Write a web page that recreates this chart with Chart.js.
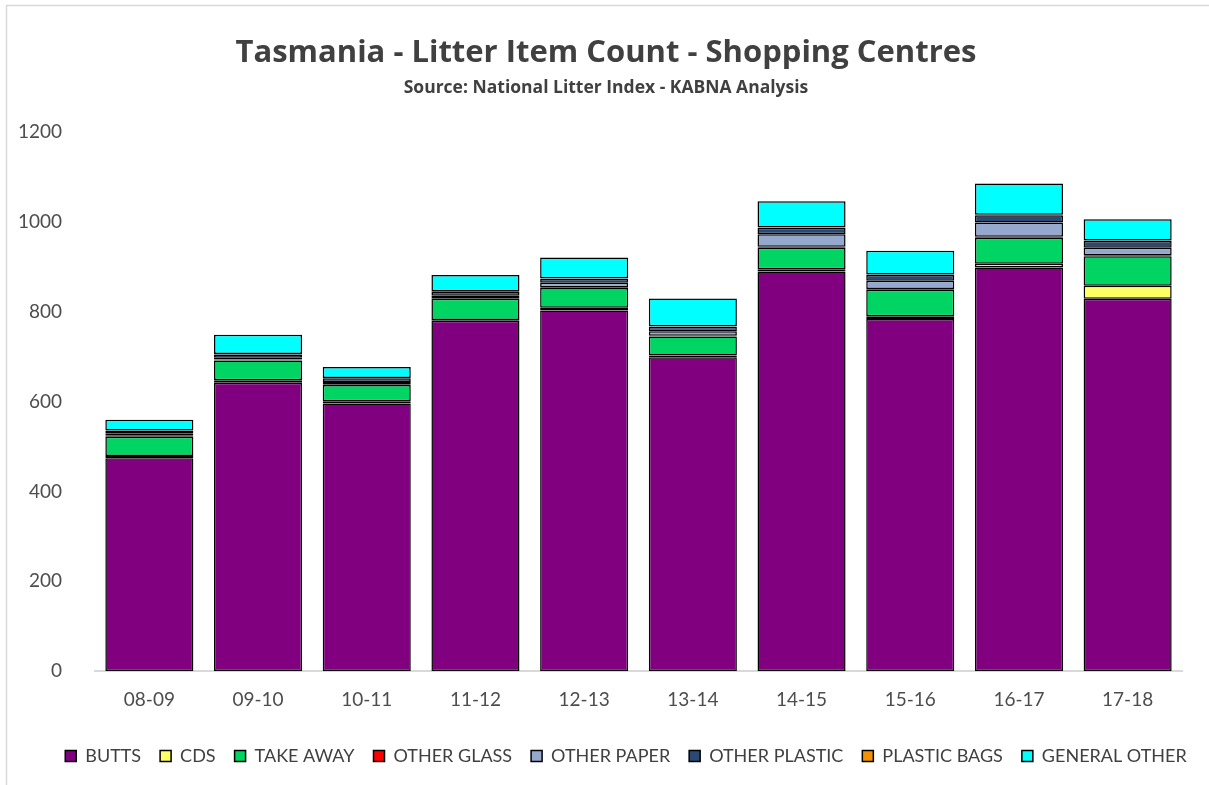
<!DOCTYPE html>
<html>
<head>
<meta charset="utf-8">
<title>Tasmania - Litter Item Count - Shopping Centres</title>
<script src="https://cdn.jsdelivr.net/npm/chart.js@4.4.0/dist/chart.umd.min.js"></script>
<style>
  html, body { margin: 0; padding: 0; background: #fff; }
  #wrap { width: 1209px; height: 785px; position: relative; }
</style>
</head>
<body>
<div id="wrap"><canvas id="litterChart" width="1209" height="785"></canvas></div>
<script>
// periods (financial years)
const periods = ['08-09', '09-10', '10-11', '11-12', '12-13', '13-14', '14-15', '15-16', '16-17', '17-18'];

// item counts per litter type
const butts        = [474, 642, 596, 780, 803, 699, 890, 784, 899, 829];
const cds          = [5, 6, 5, 2, 6, 4, 5, 6, 8, 29];
const takeAway     = [43, 44, 36, 47, 44, 42, 48, 59, 58, 66];
const otherGlass   = [2, 2, 1, 2, 2, 2, 2, 2, 2, 2];
const otherPaper   = [6, 4, 6, 5, 10, 10, 28, 18, 32, 17];
const otherPlastic = [5, 7, 8, 8, 9, 10, 14, 13, 16, 15];
const plasticBags  = [1, 1, 1, 2, 1, 1, 1, 1, 1, 1];
const generalOther = [24, 43, 24, 36, 46, 62, 58, 53, 70, 47];

const yTicks = [0, 200, 400, 600, 800, 1000, 1200];

const titleText = 'Tasmania - Litter Item Count - Shopping Centres';
const subtitleText = 'Source: National Litter Index - KABNA Analysis';

function serie(label, data, color) {
    return {
        label: label,
        data: data,
        backgroundColor: color,
        borderColor: '#000000',
        borderWidth: 1.5,
        borderSkipped: false
    };
}

// white background + light frame round the chart
const frame = {
    id: 'frame',
    beforeDraw(chart) {
        let ctx = chart.ctx;
        ctx.save();
        ctx.fillStyle = '#ffffff';
        ctx.fillRect(0, 0, chart.width, chart.height);
        ctx.strokeStyle = '#d9d9d9';
        ctx.lineWidth = 1.5;
        ctx.strokeRect(6.5, 5.5, 1240, 820);
        ctx.restore();
    }
};

// titles are centred on the page and the legend sits right of centre in the original
const boxShift = {
    id: 'boxShift',
    afterLayout(chart) {
        for (let box of chart.boxes) {
            let shift = 0;
            if (box === chart.legend) shift = 35;
            else if (box.options && (box.options.text === titleText || box.options.text === subtitleText)) shift = 15;
            box.left += shift;
            box.right += shift;
        }
    }
};

let ctx = document.getElementById('litterChart').getContext('2d');
let chart = new Chart(ctx, {
    type: 'bar',
    data: {
        labels: periods,
        datasets: [
            serie('BUTTS', butts, '#800080'),
            serie('CDS', cds, '#FFFF66'),
            serie('TAKE AWAY', takeAway, '#00D462'),
            serie('OTHER GLASS', otherGlass, '#FF0000'),
            serie('OTHER PAPER', otherPaper, '#95A9CF'),
            serie('OTHER PLASTIC', otherPlastic, '#2A4A74'),
            serie('PLASTIC BAGS', plasticBags, '#F39200'),
            serie('GENERAL OTHER', generalOther, '#00FFFF')
        ]
    },
    options: {
        responsive: false,
        animation: false,
        layout: { padding: { left: 0, right: 27, top: 0, bottom: 10 } },
        datasets: { bar: { categoryPercentage: 1.0, barPercentage: 0.81 } },
        plugins: {
            title: {
                display: true,
                text: titleText,
                color: '#404040',
                font: { family: 'Open Sans', size: 31, weight: 'bold' },
                padding: { top: 35, bottom: 5 }
            },
            subtitle: {
                display: true,
                text: subtitleText,
                color: '#404040',
                font: { family: 'Open Sans', size: 17.5, weight: 'bold' },
                padding: { top: 0, bottom: 34 }
            },
            legend: {
                position: 'bottom',
                labels: {
                    color: '#404040',
                    font: { family: 'Lato', size: 18 },
                    boxWidth: 11,
                    boxHeight: 11,
                    padding: 19
                }
            },
            tooltip: { enabled: false }
        },
        scales: {
            x: {
                stacked: true,
                grid: { display: false, drawTicks: false },
                border: { display: true, color: '#d9d9d9', width: 2 },
                ticks: {
                    color: '#4d4d4d',
                    font: { family: 'Lato', size: 19 },
                    padding: 17
                }
            },
            y: {
                stacked: true,
                min: 0,
                max: 1200,
                grid: { display: false, drawTicks: false },
                border: { display: false },
                afterFit: function(scale) { scale.width = 95; },
                afterBuildTicks: function(scale) {
                    scale.ticks = yTicks.map(v => ({ value: v }));
                },
                ticks: {
                    color: '#4d4d4d',
                    font: { family: 'Lato', size: 19 },
                    padding: 33,
                    callback: function(value) { return String(value); }
                }
            }
        }
    },
    plugins: [frame, boxShift]
});
</script>
</body>
</html>
